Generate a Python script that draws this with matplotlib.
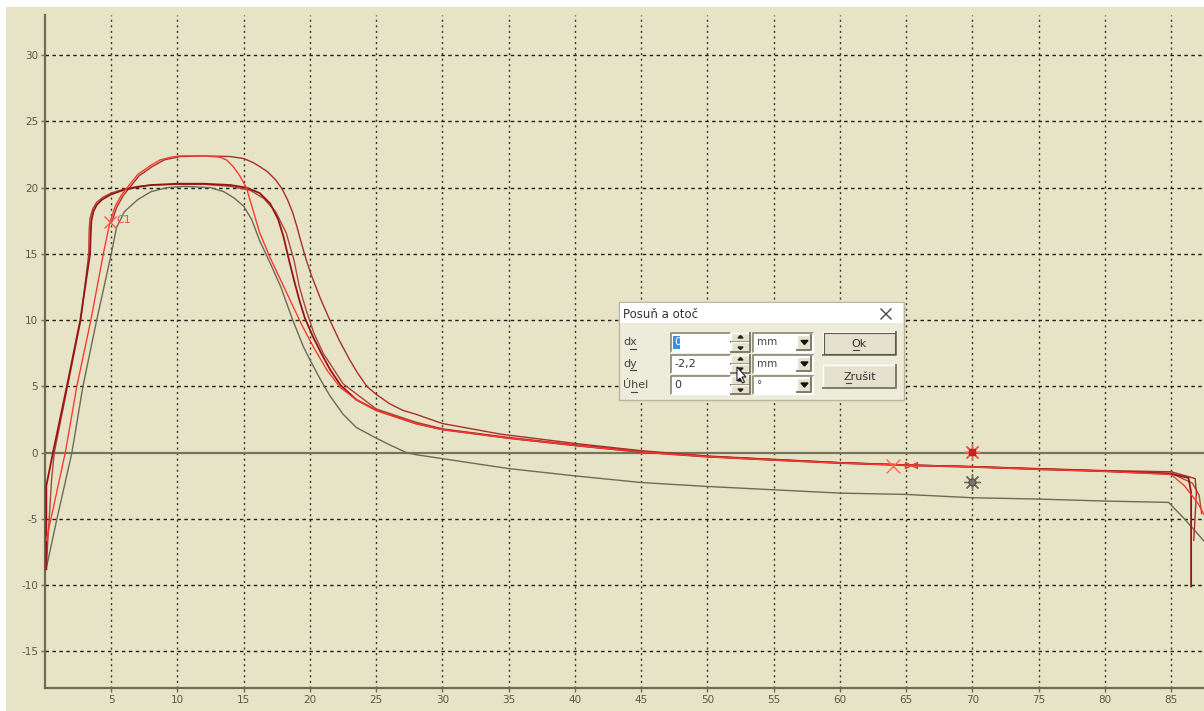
import matplotlib
matplotlib.use('Agg')
import matplotlib.pyplot as plt
from matplotlib.patches import Rectangle, Polygon
from matplotlib.lines import Line2D

# ---------------- data ----------------
x_ticks = [5, 10, 15, 20, 25, 30, 35, 40, 45, 50, 55, 60, 65, 70, 75, 80, 85]
y_ticks = [-15, -10, -5, 0, 5, 10, 15, 20, 25, 30]

gray_x = [0.1, 0.9, 2.03, 2.86, 3.9, 5.0, 5.4, 6.0, 7.0, 8.0, 9.2, 10.5, 12.5, 13.5, 14.3, 15.0,
          15.6, 16.2, 17.0, 17.8, 18.7, 19.5, 20.0, 20.8, 21.5, 22.5, 23.5, 25.0, 26.0, 27.3,
          28.0, 30.0, 35.0, 40.0, 45.0, 50.0, 55.0, 60.0, 65.0, 70.0, 75.0, 80.0, 84.8, 86.0, 87.5]
gray_y = [-8.7, -5.0, 0.0, 5.0, 10.0, 15.0, 17.0, 18.2, 19.1, 19.7, 20.0, 20.1, 20.0, 19.7, 19.2, 18.6,
          17.6, 16.0, 14.3, 12.5, 10.0, 8.0, 7.0, 5.5, 4.3, 2.9, 1.9, 1.1, 0.6, 0.0,
          -0.15, -0.45, -1.2, -1.75, -2.25, -2.55, -2.8, -3.05, -3.15, -3.4, -3.5, -3.65, -3.75, -5.0, -6.7]

# bright red, tall profile
redA_x = [0.1, 1.53, 2.4, 3.46, 4.4, 4.9, 5.3, 5.8, 6.2, 7.0, 8.0, 8.7, 9.5, 10.2, 12.0, 13.2, 13.7,
          14.2, 14.7, 15.2, 15.7, 16.2, 17.0, 17.8, 18.6, 19.4, 20.3, 21.3, 22.3, 23.5, 25.0, 28.0,
          30.0, 35.0, 40.0, 45.0, 50.0, 55.0, 60.0, 65.0, 70.0, 75.0, 80.0, 85.0, 86.0, 87.0, 87.5]
redA_y = [-6.6, 0.0, 5.0, 10.0, 15.0, 17.4, 18.6, 19.5, 20.0, 21.0, 21.7, 22.1, 22.3, 22.4, 22.4, 22.3, 22.1,
          21.6, 20.9, 20.0, 18.3, 16.6, 14.7, 13.0, 11.3, 9.6, 7.9, 6.2, 4.9, 4.0, 3.2, 2.2,
          1.75, 1.1, 0.55, 0.05, -0.3, -0.55, -0.78, -0.95, -1.07, -1.25, -1.4, -1.65, -2.5, -3.8, -4.7]

# dark red, tall profile
redB_x = [5.0, 5.4, 5.9, 6.3, 7.1, 8.1, 9.0, 10.2, 12.0, 14.0, 15.0, 15.7, 16.2, 16.8, 17.4, 17.9,
          18.3, 18.7, 19.0, 19.3, 19.7, 20.1, 20.8, 21.5, 22.2, 23.0, 23.6, 24.3, 25.0, 26.0,
          27.0, 28.0, 30.0, 34.4, 40.0, 45.0, 50.0, 55.0, 60.0, 65.0, 70.0, 75.0, 80.0, 85.0, 86.8,
          86.9, 86.7]
redB_y = [17.3, 18.5, 19.4, 19.9, 20.9, 21.6, 22.1, 22.35, 22.4, 22.35, 22.2, 21.9, 21.6, 21.2, 20.6, 19.9,
          19.1, 18.1, 17.1, 16.0, 14.6, 13.4, 11.6, 10.0, 8.5, 7.0, 6.0, 5.0, 4.4, 3.7,
          3.2, 2.9, 2.2, 1.4, 0.7, 0.15, -0.25, -0.5, -0.75, -0.92, -1.05, -1.2, -1.35, -1.44, -1.95,
          -3.0, -6.6]

# dark red (thick), wide profile
redD_x = [0.1, 0.1, 0.4, 0.6, 1.65, 2.66, 3.4, 3.45, 3.5, 3.65, 3.9, 4.3, 5.0, 6.0, 7.0, 8.0, 10.0,
          12.0, 14.0, 15.2, 16.2, 17.0, 17.6, 18.0, 18.4, 18.8, 19.2, 19.6, 20.2, 20.8, 21.5, 22.3,
          23.5, 25.0, 28.0, 30.0, 35.0, 40.0, 45.0, 50.0, 55.0, 60.0, 65.0, 70.0, 75.0, 80.0, 85.0,
          86.3, 86.5, 86.5]
redD_y = [-8.8, -2.5, -1.0, 0.0, 5.0, 10.0, 15.0, 16.5, 17.5, 18.2, 18.7, 19.1, 19.5, 19.85, 20.05, 20.2, 20.3,
          20.3, 20.2, 20.0, 19.6, 18.8, 17.6, 16.3, 14.6, 13.0, 11.5, 10.2, 8.8, 7.6, 6.3, 5.1,
          4.0, 3.2, 2.2, 1.75, 1.1, 0.55, 0.05, -0.3, -0.55, -0.78, -0.95, -1.07, -1.25, -1.4, -1.6,
          -1.9, -3.0, -10.1]

# brownish red, wide profile
redE_x = [0.1, 0.5, 0.7, 1.7, 2.7, 3.3, 3.33, 3.4, 3.6, 3.9, 4.4, 5.0, 6.0, 7.0, 8.0, 10.0, 12.0, 14.0,
          15.5, 16.5, 17.4, 18.2, 18.8, 19.2, 19.7, 20.3, 21.0, 22.5, 25.0, 28.0, 30.0, 35.0, 40.0,
          45.0, 50.0, 55.0, 60.0, 65.0, 70.0, 75.0, 80.0, 85.0, 86.6, 87.1, 87.3]
redE_y = [-8.5, -2.0, 0.0, 5.0, 10.0, 15.0, 16.8, 17.7, 18.4, 18.9, 19.3, 19.6, 19.9, 20.1, 20.2, 20.25, 20.25, 20.1,
          19.8, 19.2, 18.2, 16.6, 14.5, 12.5, 10.8, 9.0, 7.5, 5.2, 3.3, 2.3, 1.8, 1.15, 0.6,
          0.1, -0.28, -0.52, -0.75, -0.93, -1.05, -1.22, -1.38, -1.55, -2.3, -3.2, -4.6]

c1_point = (4.9, 17.4)
cross_point = (64.0, -0.98)
small_marks = (65.1, -0.93)
burst_red = (70.0, 0.07)
burst_gray = (70.0, -2.2)

# ---------------- figure ----------------
W, H = 1204, 711
fig = plt.figure(figsize=(W / 100, H / 100), dpi=100, facecolor='white')
BEIGE = '#E6E3C6'
OLIVE = '#6E6B55'
fig.add_artist(Rectangle((6 / W, 0), (W - 6) / W, (H - 7) / H, transform=fig.transFigure,
                         facecolor=BEIGE, edgecolor='none', zorder=0))

PX = 13.25  # pixels per unit
x0_px, y0_px = 45.0, 452.7
ax = fig.add_axes([x0_px / W, 1 - 688 / H, (W - x0_px) / W, (688 - 15) / H])
ax.set_facecolor('none')
ax.set_xlim(0, (W - x0_px) / PX)
ax.set_ylim(-(688 - y0_px) / PX, (y0_px - 15) / PX)

for s in ['top', 'right']:
    ax.spines[s].set_visible(False)
for s in ['left', 'bottom']:
    ax.spines[s].set_color(OLIVE)
    ax.spines[s].set_linewidth(1.6)

ax.set_xticks(x_ticks)
ax.set_yticks(y_ticks)
ax.set_xticklabels([str(v) for v in x_ticks])
ax.set_yticklabels([str(v) for v in y_ticks])
ax.tick_params(direction='out', length=3, width=1, color=OLIVE, labelcolor='#5A584E',
               labelsize=7.5, pad=2)

# grid
for v in x_ticks:
    ax.axvline(v, color='#3A3A30', lw=1.0, ls=(0, (1.5, 2.5)), zorder=1)
for v in y_ticks:
    if v == 0:
        ax.axhline(0, color='#77745E', lw=1.6, zorder=1)
    else:
        ax.axhline(v, color='#1E1E18', lw=1.0, ls=(0, (2.5, 2.5)), zorder=1)

# curves
ax.plot(gray_x, gray_y, color='#6C6B58', lw=1.0, zorder=3)
ax.plot(redE_x, redE_y, color='#B0453A', lw=1.0, zorder=4)
ax.plot(redB_x, redB_y, color='#A8302A', lw=1.0, zorder=4)
ax.plot(redD_x, redD_y, color='#951515', lw=1.3, zorder=5)
ax.plot(redA_x, redA_y, color='#FF3B30', lw=1.0, zorder=6)

# markers
ax.plot(*c1_point, marker='x', ms=8, color='#FF5A50', mew=1.0, zorder=7)
ax.text(c1_point[0] + 0.5, c1_point[1] + 0.15, 'C1', color='#FF4A40', fontsize=8,
        va='center', ha='left', zorder=7)
ax.plot(*cross_point, marker='x', ms=10, color='#FF6A5A', mew=1.0, zorder=7)
ax.plot(*small_marks, marker='>', ms=5, mfc='none', mec='#E83A30', mew=1.0, zorder=7)
ax.plot(small_marks[0] + 0.5, small_marks[1], marker='<', ms=5, mfc='none', mec='#E83A30', mew=1.0, zorder=7)
ax.plot(*burst_red, marker=(8, 2, 0), ms=12, color='#F06058', mew=1.0, zorder=7)
ax.plot(*burst_red, marker='s', ms=4, color='#C82020', zorder=8)
ax.plot(*burst_gray, marker=(8, 2, 0), ms=12, color='#77756A', mew=1.0, zorder=7)
ax.plot(*burst_gray, marker='o', ms=5, mfc='none', mec='#55534A', mew=1.0, zorder=8)


# ---------------- dialog (screen overlay) ----------------
def fx(x):
    return x / W


def fy(y):
    return 1 - y / H


def prect(x1, y1, x2, y2, **kw):
    fig.add_artist(Rectangle((fx(x1), fy(y2)), (x2 - x1) / W, (y2 - y1) / H,
                             transform=fig.transFigure, **kw))


def pline(xs, ys, **kw):
    fig.add_artist(Line2D([fx(v) for v in xs], [fy(v) for v in ys], transform=fig.transFigure, **kw))


def ptext(x, y, s, **kw):
    fig.text(fx(x), fy(y), s, **kw)


DLG = '#EDEBDA'
prect(619, 302, 904, 400, facecolor=DLG, edgecolor='#B8B5A0', lw=1.0, zorder=20)
prect(620, 303, 903, 323, facecolor='white', edgecolor='none', zorder=21)
ptext(623, 314, 'Posuň a otoč', fontsize=8.5, color='#333333', va='center', ha='left',
      family='DejaVu Sans', zorder=22)
pline([881, 891], [309, 319], color='#444444', lw=1.0, zorder=22)
pline([881, 891], [319, 309], color='#444444', lw=1.0, zorder=22)


def sunken(x1, y1, x2, y2, fill='white'):
    prect(x1, y1, x2, y2, facecolor=fill, edgecolor='none', zorder=21)
    pline([x1, x1, x2], [y2, y1, y1], color='#8A8770', lw=1.2, zorder=22)
    pline([x1, x2, x2], [y2, y2, y1], color='#FFFFFF', lw=1.0, zorder=22)


def raised(x1, y1, x2, y2, fill='#E4E1CC'):
    prect(x1, y1, x2, y2, facecolor=fill, edgecolor='none', zorder=21)
    pline([x1, x1, x2], [y2, y1, y1], color='#FFFFFF', lw=1.0, zorder=22)
    pline([x1, x2, x2], [y2, y2, y1], color='#7E7B66', lw=1.4, zorder=22)


rows = [(333, 352), (355, 373), (376, 394)]
labels = ['dx', 'dy', 'Úhel']
values = ['0', '-2,2', '0']
units = ['mm', 'mm', '°']
for (t, b), lab, val, un in zip(rows, labels, values, units):
    yc = (t + b) / 2
    ptext(623, yc, lab, fontsize=8, color='#444444', va='center', ha='left', zorder=22)
    sunken(671, t, 730, b)
    raised(731, t, 750, (t + b) / 2)
    raised(731, (t + b) / 2, 750, b)
    fig.add_artist(Polygon([(fx(738), fy(t + 5)), (fx(743), fy(t + 5)), (fx(740.5), fy(t + 2.5))],
                           closed=True, transform=fig.transFigure, color='#222222', zorder=23))
    fig.add_artist(Polygon([(fx(738), fy(b - 5)), (fx(743), fy(b - 5)), (fx(740.5), fy(b - 2.5))],
                           closed=True, transform=fig.transFigure, color='#222222', zorder=23))
    sunken(753, t, 813, b)
    raised(797, t + 2, 811, b - 2)
    fig.add_artist(Polygon([(fx(801), fy(yc - 2)), (fx(808), fy(yc - 2)), (fx(804.5), fy(yc + 2))],
                           closed=True, transform=fig.transFigure, color='#111111', zorder=23))
    ptext(757, yc, un, fontsize=7.5, color='#444444', va='center', ha='left', zorder=23)
    if lab == 'dx':
        prect(673, t + 3, 680, b - 3, facecolor='#3A8EE6', edgecolor='none', zorder=22)
        ptext(674, yc, val, fontsize=8, color='white', va='center', ha='left', zorder=23)
    else:
        ptext(674, yc, val, fontsize=8, color='#333333', va='center', ha='left', zorder=23)

# underlined mnemonics
pline([630, 636], [349, 349], color='#444444', lw=0.8, zorder=23)
pline([630, 636], [370, 370], color='#444444', lw=0.8, zorder=23)
pline([631, 637], [392, 392], color='#444444', lw=0.8, zorder=23)

# buttons
raised(823, 332, 896, 355)
pline([824, 895, 895, 824, 824], [333, 333, 354, 354, 333], color='#5E5B48', lw=0.8, zorder=22)
ptext(859.5, 344, 'Ok', fontsize=8, color='#333333', va='center', ha='center', zorder=23)
pline([853, 859], [350, 350], color='#444444', lw=0.8, zorder=23)
raised(823, 365, 896, 388)
ptext(859.5, 377, 'Zrušit', fontsize=8, color='#333333', va='center', ha='center', zorder=23)
pline([846, 851], [383, 383], color='#444444', lw=0.8, zorder=23)

# mouse pointer
cursor = [(737, 367), (737, 381), (740, 378), (742.5, 383), (744.5, 382), (742, 377), (746, 377)]
fig.add_artist(Polygon([(fx(a), fy(b)) for a, b in cursor], closed=True, transform=fig.transFigure,
                       facecolor='white', edgecolor='#222222', lw=0.8, zorder=24))

fig.savefig('out.png', dpi=100, facecolor='white')
